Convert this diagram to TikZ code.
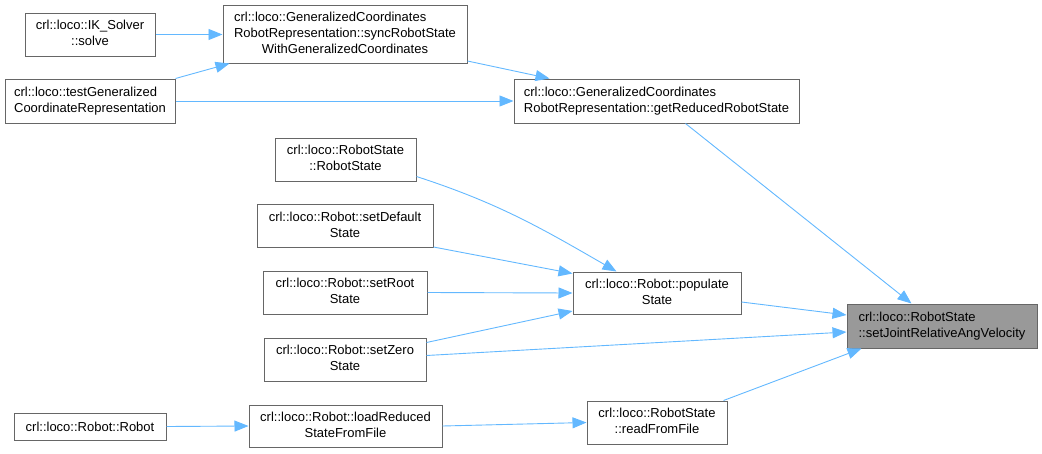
\documentclass[tikz,border=0pt]{standalone}
\usepackage{fontspec}
\setmainfont{Liberation Sans}
\usetikzlibrary{arrows.meta}
\definecolor{edgeblue}{HTML}{63B8FF}
\definecolor{boxgray}{HTML}{666666}
\definecolor{curgray}{HTML}{999999}
% label: first lines left, last line centred
\newcommand{\flab}[2]{\begin{tabular}{@{}l@{}}#1\\\multicolumn{1}{@{}c@{}}{#2}\end{tabular}}
\tikzset{
  fn/.style={draw=boxgray, line width=1pt, fill=white, inner sep=0pt,
    font=\fontsize{13}{16}\selectfont},
  cur/.style={fn, fill=curgray},
  call/.style={draw=edgeblue, line width=0.9pt, -{Triangle[length=14pt,width=11pt]}}
}
\begin{document}
\begin{tikzpicture}[x=1pt, y=-1pt]
        \useasboundingbox (0,0) rectangle (1042,453);
        %callers
        \node[fn, minimum width=130pt, minimum height=43pt] (solve) at (90,34.5) {\flab{crl::loco::IK\_Solver}{::solve}};
        \node[fn, minimum width=244pt, minimum height=58pt] (sync) at (345,34) {\flab{crl::loco::GeneralizedCoordinates\\RobotRepresentation::syncRobotState}{WithGeneralizedCoordinates}};
        \node[fn, minimum width=170pt, minimum height=44pt] (testgen) at (90,101) {\flab{crl::loco::testGeneralized}{CoordinateRepresentation}};
        \node[fn, minimum width=285pt, minimum height=44pt] (reduced) at (656.5,101) {\flab{crl::loco::GeneralizedCoordinates}{RobotRepresentation::getReducedRobotState}};
        \node[fn, minimum width=141pt, minimum height=43pt] (rstate) at (345.5,159.5) {\flab{crl::loco::RobotState}{::RobotState}};
        \node[fn, minimum width=176pt, minimum height=43pt] (setdefault) at (345,226) {\flab{crl::loco::Robot::setDefault}{State}};
        \node[fn, minimum width=164pt, minimum height=43pt] (setroot) at (345,292.5) {\flab{crl::loco::Robot::setRoot}{State}};
        \node[fn, minimum width=162pt, minimum height=43pt] (setzero) at (345,359.5) {\flab{crl::loco::Robot::setZero}{State}};
        \node[fn, minimum width=168pt, minimum height=42pt] (populate) at (657,293) {\flab{crl::loco::Robot::populate}{State}};
        \node[fn, minimum width=152pt, minimum height=27pt] (robot) at (90,426.5) {crl::loco::Robot::Robot};
        \node[fn, minimum width=193pt, minimum height=42pt] (loadreduced) at (345.5,426) {\flab{crl::loco::Robot::loadReduced}{StateFromFile}};
        \node[fn, minimum width=140pt, minimum height=43pt] (readfile) at (657,422.5) {\flab{crl::loco::RobotState}{::readFromFile}};
        %current function
        \node[cur, minimum width=190pt, minimum height=44pt] (setjoint) at (942,326) {\flab{crl::loco::RobotState}{::setJointRelativeAngVelocity}};

        \draw[call] (solve.east) -- (solve.east -| sync.west);
        \draw[call] (testgen.north east) -- ([xshift=7pt]sync.south west);
        \draw[call] ([yshift=-27pt]sync.east) -- ([xshift=36pt]reduced.north west);
        \draw[call] (testgen.east) -- (reduced.west);
        \draw[call] ([xshift=172pt]reduced.south west) -- ([xshift=65pt]setjoint.north west);
        \draw[call] ([yshift=-17pt]rstate.east) to[out=-18, in=150] ([xshift=44pt]populate.north west);
        \draw[call] ([yshift=1pt]setdefault.south east) -- ([yshift=-2pt]populate.north west);
        \draw[call] (setroot.east) -- (populate.west);
        \draw[call] ([yshift=17pt]setzero.east) -- ([yshift=-18pt]populate.west);
        \draw[call] ([yshift=-9pt]populate.east) -- ([yshift=11pt]setjoint.west);
        \draw[call] ([yshift=4pt]setzero.east) -- ([yshift=-6pt]setjoint.west);
        \draw[call] (robot.east) -- (loadreduced.west);
        \draw[call] (loadreduced.east) -- (readfile.west);
        \draw[call] ([xshift=-4pt]readfile.north east) -- ([xshift=15pt]setjoint.south west);
    \end{tikzpicture}
\end{document}
